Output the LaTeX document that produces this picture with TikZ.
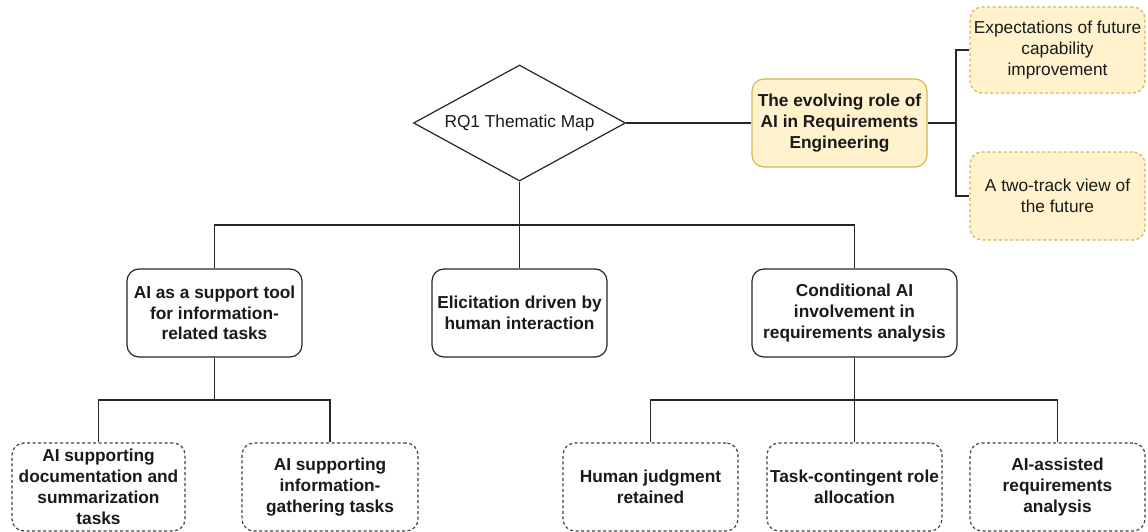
\documentclass[tikz,border=0pt]{standalone}
\usepackage{fontspec}
\setmainfont{Liberation Sans}
\usetikzlibrary{shapes.geometric}
\definecolor{yfill}{HTML}{FFF2CC}
\definecolor{ydraw}{HTML}{D6B656}
\definecolor{txt}{HTML}{1A1A1A}
\begin{document}
\begin{tikzpicture}[x=1pt,y=-1pt,
  every node/.style={font=\fontsize{17.3}{20.8}\selectfont, text=txt, align=center, inner sep=1pt},
  base/.style={rectangle, rounded corners=12pt, line width=1.2pt, minimum width=175pt, minimum height=88pt},
  solidbox/.style={base, draw=black!85, fill=white, font=\fontsize{17.3}{20.8}\selectfont\bfseries},
  mainbox/.style={base, draw=ydraw, fill=yfill, font=\fontsize{17.3}{20.8}\selectfont\bfseries},
  futbox/.style={base, draw=ydraw, fill=yfill, dash pattern=on 3pt off 2.5pt},
  leafbox/.style={base, draw=black!75, fill=white, dash pattern=on 3pt off 2.5pt, font=\fontsize{17.3}{20.8}\selectfont\bfseries},
  link/.style={line width=1.2pt, draw=black!85}
]
\useasboundingbox (0,0) rectangle (1148,532);

\node[diamond, draw=black!85, line width=1.2pt, fill=white, aspect=1.84, minimum width=212pt, minimum height=116pt] (D) at (519.5,123) {RQ1 Thematic Map};

\node[mainbox] (Y) at (839.5,123) {The evolving role of\\AI in Requirements\\Engineering};
\node[futbox, minimum height=86pt] (E1) at (1057.5,50) {Expectations of future\\capability\\improvement};
\node[futbox] (E2) at (1057.5,196) {A two-track view of\\the future};

\node[solidbox] (M1) at (214.5,313) {AI as a support tool\\for information-\\related tasks};
\node[solidbox] (M2) at (519.5,313) {Elicitation driven by\\human interaction};
\node[solidbox, minimum width=205pt] (M3) at (854.5,313) {Conditional AI\\involvement in\\requirements analysis};

\node[leafbox, minimum width=173pt] (B1) at (98.5,487) {AI supporting\\documentation and\\summarization\\tasks};
\node[leafbox, minimum width=176pt] (B2) at (330,487) {AI supporting\\information-\\gathering tasks};
\node[leafbox] (B3) at (650.5,487) {Human judgment\\retained};
\node[leafbox] (B4) at (854.5,487) {Task-contingent role\\allocation};
\node[leafbox] (B5) at (1057.5,487) {AI-assisted\\requirements\\analysis};

\coordinate (j1) at (519.5,225);
\coordinate (j2) at (956,123);
\coordinate (j3) at (214.5,400);
\coordinate (j4) at (854.5,400);

\draw[link] (D.east) -- (Y.west);
\draw[link] (Y.east) -- (j2);
\draw[link] (E1.west) -| (j2) |- (E2.west);
\draw[link] (D.south) -- (M2.north);
\draw[link] (M1.north) |- (j1) -| (M3.north);
\draw[link] (M1.south) -- (j3);
\draw[link] (B1.north) |- (j3) -| (B2.north);
\draw[link] (M3.south) -- (B4.north);
\draw[link] (B3.north) |- (j4) -| (B5.north);
\end{tikzpicture}
\end{document}
